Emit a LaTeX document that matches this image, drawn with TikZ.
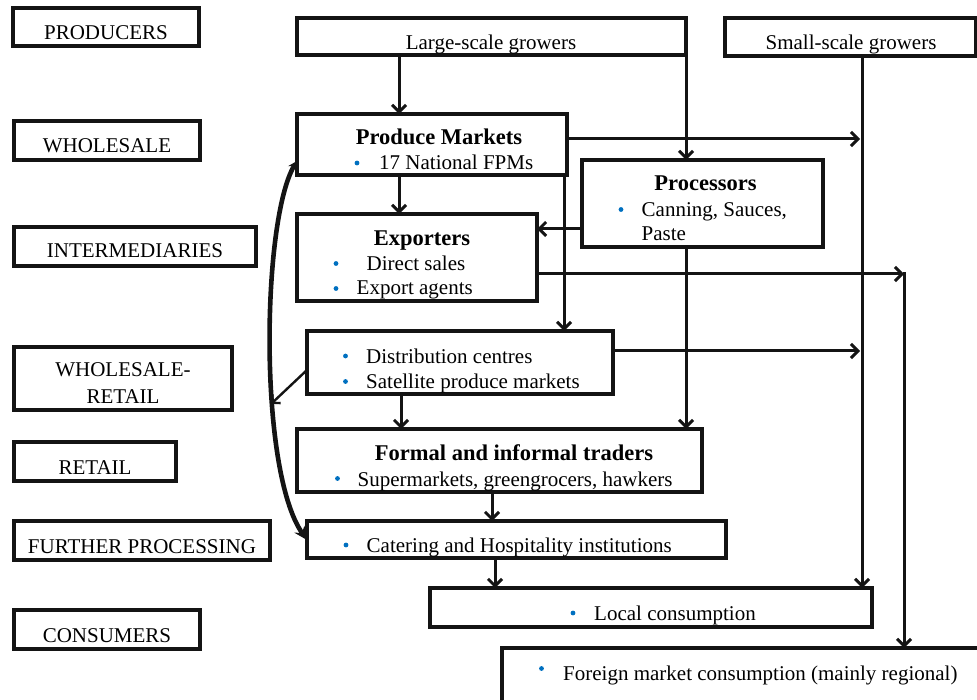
\documentclass[tikz,border=0pt]{standalone}
\usepackage{fontspec}
\setmainfont{Liberation Serif}
\usetikzlibrary{arrows.meta,calc}
\definecolor{bulblue}{RGB}{0,112,192}
\definecolor{ink}{RGB}{20,20,20}
\newcommand\mybox[5]{\node[box, minimum width={(#4-#2)*1pt}, minimum height={(#5-#3)*1pt}] (#1) at (#2,#3) {};}
\begin{document}
\begin{tikzpicture}[x=1pt,y=-1pt,
  box/.style={draw=ink, line width=3.2pt, inner sep=0pt, outer sep=0pt, anchor=north west},
  arr/.style={draw=ink, line width=3pt, -{Straight Barb[length=7pt,width=14pt]}},
  thinarr/.style={draw=ink, line width=2.4pt, -{Straight Barb[length=6pt,width=12pt]}},
  curvearr/.style={draw=ink, line width=4.6pt, {Stealth[length=9pt,width=10pt]}-{Stealth[length=13pt,width=12pt]}},
  lbl/.style={inner sep=0pt, anchor=base, font=\fontsize{21}{25}\selectfont},
  txt/.style={inner sep=0pt, anchor=base west, font=\fontsize{21}{25}\selectfont},
  hd/.style={inner sep=0pt, anchor=base, font=\fontsize{22.5}{27}\selectfont\bfseries},
  bul/.style={circle, fill=bulblue, inner sep=0pt, minimum size=4.8pt}]
\useasboundingbox (0,0) rectangle (977,700);

% left level labels
\mybox{Lprod}{13}{8}{199}{46}
\node[lbl] (tprod) at (106,40) {PRODUCERS};
\mybox{Lwhole}{14}{121}{200}{160}
\node[lbl] (twhole) at (107,153) {WHOLESALE};
\mybox{Linter}{14}{227}{256}{266}
\node[lbl] (tinter) at (135,258) {INTERMEDIARIES};
\mybox{Lwr}{14}{347}{232}{410}
\node[lbl] (twr1) at (123,377) {WHOLESALE-};
\node[lbl] (twr2) at (123,403) {RETAIL};
\mybox{Lret}{14}{442}{176}{481}
\node[lbl] (tret) at (95,474) {RETAIL};
\mybox{Lfp}{14}{521}{270}{560}
\node[lbl] (tfp) at (142,553) {FURTHER PROCESSING};
\mybox{Lcons}{14}{610}{200}{649}
\node[lbl] (tcons) at (107,642) {CONSUMERS};

% main boxes
\mybox{lg}{297}{18}{686}{55}
\node[lbl] (tlg) at (491,50) {Large-scale growers};
\mybox{sm}{725}{18}{976}{56}
\node[lbl] (tsm) at (851,50) {Small-scale growers};

\mybox{pm}{297}{114}{567}{175}
\node[hd] (tpm) at (439,145) {Produce Markets};
\node[bul] (bpm) at (357,163) {};
\node[txt] (tpm1) at (379,170) {17 National FPMs};

\mybox{ex}{297}{214}{537}{301}
\node[hd] (tex) at (422,246) {Exporters};
\node[bul] (bex1) at (336,263.5) {};
\node[txt] (tex1) at (366.5,271) {Direct sales};
\node[bul] (bex2) at (336,288.5) {};
\node[txt] (tex2) at (356.5,295) {Export agents};

\mybox{pr}{582}{160}{823}{247}
\node[hd] (tpr) at (705.5,191) {Processors};
\node[bul] (bpr) at (621,209.5) {};
\node[txt] (tpr1) at (641.5,216.5) {Canning, Sauces,};
\node[txt] (tpr2) at (641.5,240.5) {Paste};

\mybox{dc}{307}{331}{613}{394}
\node[bul] (bdc1) at (345.5,356) {};
\node[txt] (tdc1) at (366,363.5) {Distribution centres};
\node[bul] (bdc2) at (345.5,381.5) {};
\node[txt] (tdc2) at (366,388.5) {Satellite produce markets};

\mybox{ft}{297}{429}{702}{492}
\node[hd] (tft) at (514,460.5) {Formal and informal traders};
\node[bul] (bft) at (337.5,478.5) {};
\node[txt] (tft1) at (357.5,486) {Supermarkets, greengrocers, hawkers};

\mybox{ca}{307}{521}{726}{558}
\node[bul] (bca) at (346,545) {};
\node[txt] (tca1) at (366.5,552.5) {Catering and Hospitality institutions};

\mybox{lc}{430}{588}{872}{627}
\node[bul] (blc) at (573,613) {};
\node[txt] (tlc) at (594,620) {Local consumption};

\mybox{fm}{502}{648}{1020}{740}
\node[bul] (bfm) at (541.5,668.5) {};
\node[txt] (tfm) at (563,680) {Foreign market consumption (mainly regional)};

% helper coordinates
\coordinate (v1) at (399,0);
\coordinate (v2) at (686,0);
\coordinate (v3) at (862,0);
\coordinate (v4) at (564,0);
\coordinate (v5) at (401,0);
\coordinate (v6) at (492,0);
\coordinate (v7) at (495,0);
\coordinate (h1) at (0,139);
\coordinate (h2) at (0,229);
\coordinate (h3) at (0,274);
\coordinate (h4) at (0,351);
\coordinate (h5) at (0,370);
\coordinate (h6) at (0,161);
\coordinate (h7) at (0,540);
\coordinate (j1) at (860,139);
\coordinate (j2) at (904,274);
\coordinate (j3) at (860,351);
\coordinate (j4) at (271,404);

% connectors
\draw[arr] (lg.south -| v1) -- (pm.north -| v1);
\draw[arr] (lg.south -| v2) -- (pr.north -| v2);
\draw[arr] (pm.east |- h1) -- (j1);
\draw[arr] (sm.south -| v3) -- (lc.north -| v3);
\draw[arr] (pm.south -| v1) -- (ex.north -| v1);
\draw[arr] (pm.south -| v4) -- (dc.north -| v4);
\draw[arr] (pr.west |- h2) -- (ex.east |- h2);
\draw[arr] (ex.east |- h3) -- (j2);
\draw[arr] ([yshift=1.5pt]j2) -- (fm.north -| j2);
\draw[arr] (pr.south -| v2) -- (ft.north -| v2);
\draw[arr] (dc.east |- h4) -- (j3);
\draw[arr] (dc.south -| v5) -- (ft.north -| v5);
\draw[arr] (ft.south -| v6) -- (ca.north -| v6);
\draw[arr] (ca.south -| v7) -- (lc.north -| v7);
\draw[thinarr] (dc.west |- h5) -- (j4);
\draw[curvearr] (pm.west |- h6) .. controls (262,220) and (258,470) .. (ca.west |- h7);
\end{tikzpicture}
\end{document}
